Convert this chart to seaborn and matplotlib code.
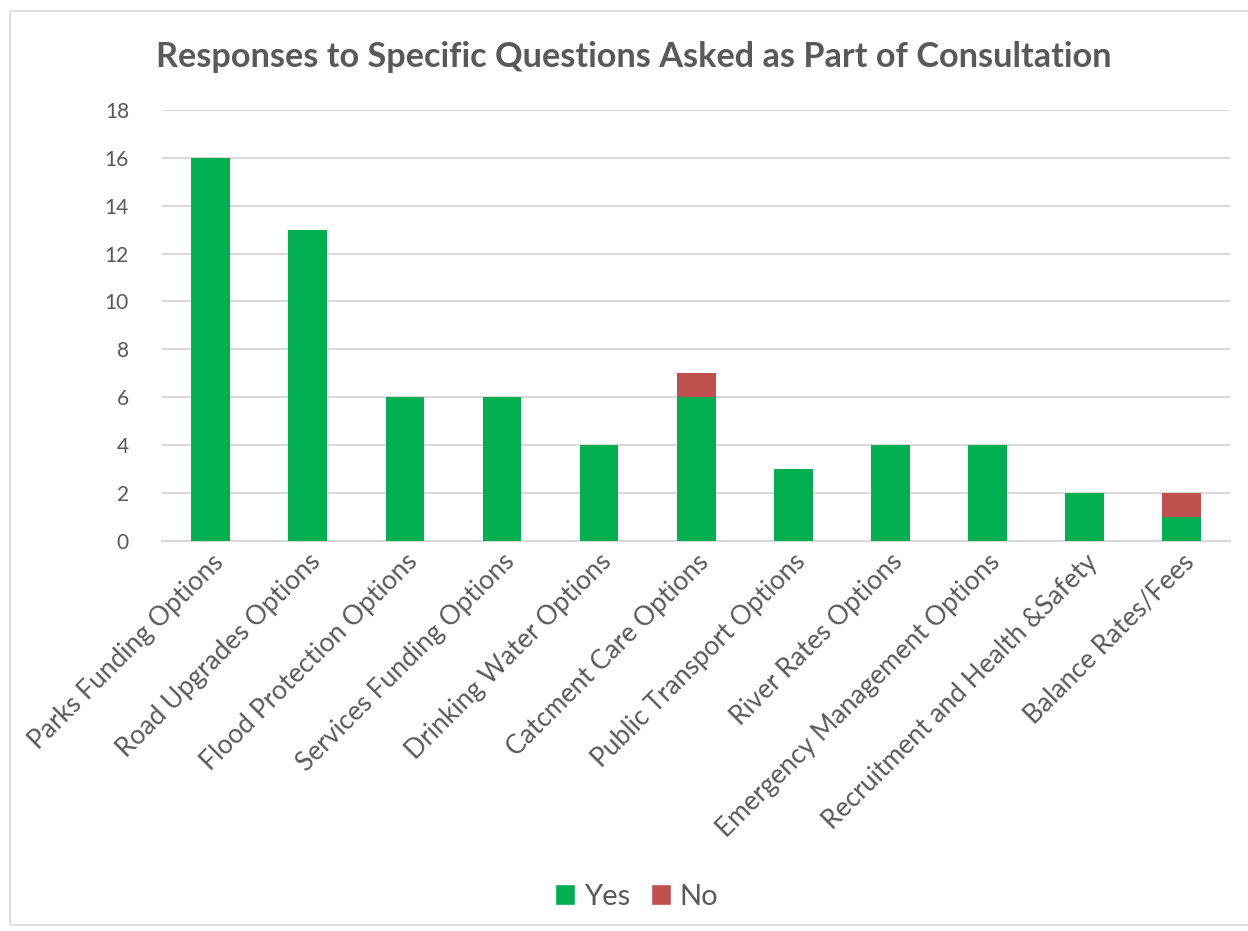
import matplotlib
matplotlib.use("Agg")
import matplotlib.pyplot as plt
import seaborn as sns
import pandas as pd
from matplotlib.patches import Rectangle, Patch

categories = ["Parks Funding Options", "Road Upgrades Options", "Flood Protection Options",
              "Services Funding Options", "Drinking Water Options", "Catcment Care Options",
              "Public Transport Options", "River Rates Options", "Emergency Management Options",
              "Recruitment and Health &Safety", "Balance Rates/Fees"]
yes_vals = [16, 13, 6, 6, 4, 6, 3, 4, 4, 2, 1]
no_vals = [0, 0, 0, 0, 0, 1, 0, 0, 0, 0, 1]
yticks = [0, 2, 4, 6, 8, 10, 12, 14, 16, 18]
title = "Responses to Specific Questions Asked as Part of Consultation"

GREEN = "#00B050"
RED = "#C0504D"
TXT = "#595959"

sns.set_theme(style="white")
plt.rcParams['font.family'] = ['Lato', 'DejaVu Sans']

df = pd.DataFrame({"cat": categories, "Yes": yes_vals, "No": no_vals})
df["Total"] = df["Yes"] + df["No"]

fig = plt.figure(figsize=(12.48, 9.31), dpi=100)
ax = fig.add_axes([0.130, 0.419, 0.8556, 0.463])

sns.barplot(data=df, x="cat", y="Total", color=RED, saturation=1, width=0.4, ax=ax,
            zorder=3, linewidth=0, edgecolor="none")
sns.barplot(data=df, x="cat", y="Yes", color=GREEN, saturation=1, width=0.4, ax=ax,
            zorder=4, linewidth=0, edgecolor="none")

ax.set_xlim(-0.5, len(categories) - 0.5)
ax.set_ylim(0, 18)
ax.set_yticks(yticks)
ax.set_yticklabels([str(v) for v in yticks], color=TXT, fontsize=15)
ax.yaxis.grid(True, color="#D9D9D9", linewidth=1.5, zorder=0)
ax.set_axisbelow(True)
for s in ["top", "right", "left"]:
    ax.spines[s].set_visible(False)
ax.spines["bottom"].set_color("#D9D9D9")
ax.spines["bottom"].set_linewidth(1.5)
ax.tick_params(axis="y", length=0, pad=24)
ax.tick_params(axis="x", length=0, pad=6)
ax.set_xticks(range(len(categories)))
ax.set_xticklabels(categories, rotation=45, ha="right", rotation_mode="anchor",
                   color=TXT, fontsize=19)
ax.set_xlabel("")
ax.set_ylabel("")

fig.text(0.508, 0.939, title, ha="center", va="center", fontsize=24.7,
         fontweight="bold", color=TXT)

handles = [Patch(facecolor=GREEN, label="Yes"), Patch(facecolor=RED, label="No")]
fig.legend(handles=handles, loc="center", bbox_to_anchor=(0.51, 0.037), ncol=2,
           frameon=False, fontsize=21, labelcolor=TXT, handlelength=0.7, handleheight=0.7,
           handletextpad=0.3, columnspacing=0.7)

fig.patches.append(Rectangle((0.008, 0.006), 1.2, 0.982, transform=fig.transFigure,
                             fill=False, edgecolor="#D9D9D9", linewidth=1.2))

fig.savefig("out.png", dpi=100)
